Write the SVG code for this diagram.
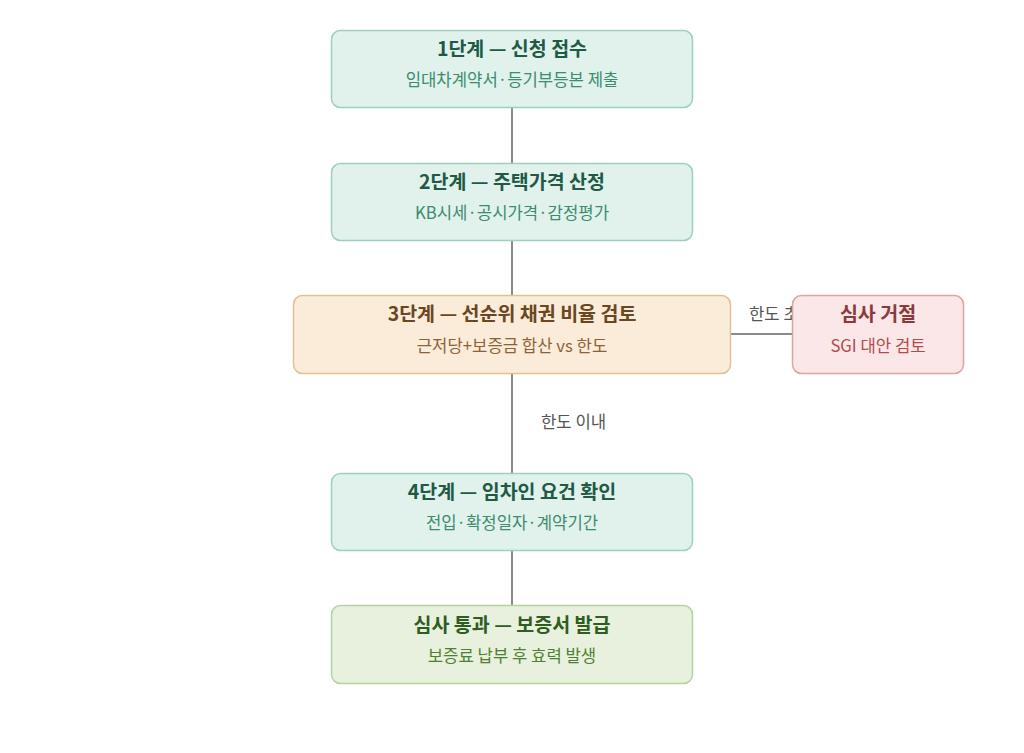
<svg xmlns="http://www.w3.org/2000/svg" width="1024" height="753" viewBox="0 0 1024 753">
<style>
text{font-family:"Noto Sans CJK KR","Noto Sans",sans-serif;text-anchor:middle}
.t{font-size:19.5px;font-weight:bold}
.s{font-size:16.7px}
.lbl{font-size:16.7px;fill:#555;text-anchor:start}
.g rect{fill:#e1f2ec;stroke:#9ed0bd;stroke-width:1.5}
.g .t{fill:#1e5a45}.g .s{fill:#3b8c6e}
.o rect{fill:#fbecd9;stroke:#dfc194;stroke-width:1.5}
.o .t{fill:#6a4621}.o .s{fill:#8c6337}
.r rect{fill:#fbe7e7;stroke:#e0a2a2;stroke-width:1.5}
.r .t{fill:#8a3a3d}.r .s{fill:#b44a4e}
.l rect{fill:#e7f1dd;stroke:#b5d49e;stroke-width:1.5}
.l .t{fill:#2f5c1f}.l .s{fill:#4f7f32}
.c line{stroke:#8a8a8a;stroke-width:2}
</style>
<rect width="1024" height="753" fill="#ffffff"/>
<g id="connectors" class="c">
<line x1="512" y1="107" x2="512" y2="163"/>
<line x1="512" y1="240" x2="512" y2="295"/>
<line x1="512" y1="373" x2="512" y2="473"/>
<line x1="512" y1="550" x2="512" y2="605"/>
<line x1="730" y1="334" x2="792" y2="334"/>
<text class="lbl" x="749" y="320">한도 초과</text>
<text class="lbl" x="541" y="428">한도 이내</text>
</g>
<g id="step1" class="g">
<rect x="331.5" y="30.5" width="361" height="77" rx="9"/>
<text class="t" x="512" y="56">1단계 — 신청 접수</text>
<text class="s" x="512" y="86">임대차계약서·등기부등본 제출</text>
</g>
<g id="step2" class="g">
<rect x="331.5" y="163.5" width="361" height="77" rx="9"/>
<text class="t" x="512" y="189">2단계 — 주택가격 산정</text>
<text class="s" x="512" y="219">KB시세·공시가격·감정평가</text>
</g>
<g id="step3" class="o">
<rect x="293.5" y="295.5" width="437" height="78" rx="9"/>
<text class="t" x="512" y="321">3단계 — 선순위 채권 비율 검토</text>
<text class="s" x="512" y="352">근저당+보증금 합산 vs 한도</text>
</g>
<g id="reject" class="r">
<rect x="792.5" y="295.5" width="171" height="78" rx="9"/>
<text class="t" x="878" y="321">심사 거절</text>
<text class="s" x="878" y="352">SGI 대안 검토</text>
</g>
<g id="step4" class="g">
<rect x="331.5" y="473.5" width="361" height="77" rx="9"/>
<text class="t" x="512" y="499">4단계 — 임차인 요건 확인</text>
<text class="s" x="512" y="529">전입·확정일자·계약기간</text>
</g>
<g id="pass" class="l">
<rect x="331.5" y="605.5" width="361" height="78" rx="9"/>
<text class="t" x="512" y="632">심사 통과 — 보증서 발급</text>
<text class="s" x="512" y="662">보증료 납부 후 효력 발생</text>
</g>
</svg>
